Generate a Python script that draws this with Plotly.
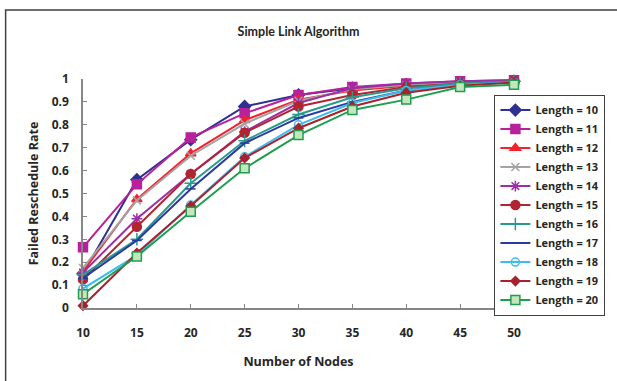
import plotly.graph_objects as go

nodes = [10, 15, 20, 25, 30, 35, 40, 45, 50]

len10 = [0.15, 0.56, 0.735, 0.88, 0.93, 0.96, 0.975, 0.985, 0.99]
len11 = [0.265, 0.54, 0.745, 0.85, 0.93, 0.965, 0.98, 0.99, 0.995]
len12 = [0.16, 0.475, 0.675, 0.82, 0.91, 0.95, 0.97, 0.985, 0.99]
len13 = [0.175, 0.47, 0.665, 0.805, 0.905, 0.955, 0.975, 0.985, 0.99]
len14 = [0.155, 0.39, 0.585, 0.77, 0.895, 0.96, 0.98, 0.99, 0.995]
len15 = [0.125, 0.355, 0.585, 0.765, 0.88, 0.93, 0.965, 0.98, 0.99]
len16 = [0.145, 0.30, 0.545, 0.73, 0.845, 0.92, 0.96, 0.98, 0.99]
len17 = [0.13, 0.295, 0.52, 0.72, 0.83, 0.90, 0.95, 0.975, 0.985]
len18 = [0.085, 0.23, 0.45, 0.66, 0.80, 0.895, 0.95, 0.975, 0.985]
len19 = [0.01, 0.24, 0.445, 0.655, 0.785, 0.88, 0.94, 0.97, 0.985]
len20 = [0.06, 0.225, 0.42, 0.61, 0.755, 0.865, 0.91, 0.965, 0.975]

names = ["Length = 10", "Length = 11", "Length = 12", "Length = 13",
         "Length = 14", "Length = 15", "Length = 16", "Length = 17",
         "Length = 18", "Length = 19", "Length = 20"]
series = [len10, len11, len12, len13, len14, len15, len16, len17, len18, len19, len20]

styles = [
    dict(color="#2E3192", symbol="diamond", size=9, fill="#2E3192"),
    dict(color="#B8219B", symbol="square", size=9, fill="#B8219B"),
    dict(color="#F5222D", symbol="triangle-up", size=9, fill="#F5222D"),
    dict(color="#A3A3A3", symbol="x-thin-open", size=8, fill="#A3A3A3"),
    dict(color="#9B2FA3", symbol="asterisk-open", size=9, fill="#9B2FA3"),
    dict(color="#B02530", symbol="circle", size=9, fill="#B02530"),
    dict(color="#2A9A8C", symbol="cross-thin-open", size=9, fill="#2A9A8C"),
    dict(color="#2B3AA0", symbol="line-ew-open", size=7, fill="#2B3AA0"),
    dict(color="#3DBDEF", symbol="circle-open", size=8, fill="#3DBDEF"),
    dict(color="#A8222E", symbol="diamond", size=7, fill="#A8222E"),
    dict(color="#1E9E4E", symbol="square", size=9, fill="#C5E6BD"),
]

fig = go.Figure()
for name, vals, st in zip(names, series, styles):
    fig.add_trace(go.Scatter(
        x=nodes, y=vals, name=name, mode="lines+markers",
        line=dict(color=st["color"], width=2),
        marker=dict(symbol=st["symbol"], size=st["size"], color=st["fill"],
                    line=dict(color=st["color"], width=1.5)),
        cliponaxis=False,
    ))

title_family = "Lato, sans-serif"
body_family = "'Open Sans', sans-serif"
txt_color = "#262626"
axis_color = "#868686"

fig.update_layout(
    width=617, height=381,
    margin=dict(l=83, r=94, t=79, b=73),
    paper_bgcolor="white", plot_bgcolor="white",
    font=dict(family=body_family, color=txt_color, size=12),
    title=dict(text="Simple Link Algorithm", x=0.5, xanchor="center",
               xref="paper", y=1 - 32 / 381, yanchor="middle",
               font=dict(size=12.5, family=title_family, color=txt_color, weight="bold")),
    showlegend=True,
    legend=dict(x=0.9545, y=0.932, xanchor="left", yanchor="top",
                bgcolor="white", bordercolor="#404040", borderwidth=1,
                font=dict(size=11, family=body_family, color=txt_color, weight="bold"),
                itemwidth=30, tracegroupgap=0),
    xaxis=dict(range=[10, 50], tickvals=nodes,
               showgrid=False, zeroline=False, showline=True,
               linecolor=axis_color, linewidth=1.5,
               ticks="inside", ticklen=4, tickcolor=axis_color,
               ticklabelstandoff=13,
               tickfont=dict(size=12, weight="bold"),
               title=dict(text="Number of Nodes", standoff=17,
                          font=dict(size=12.5, weight="bold"))),
    yaxis=dict(range=[0, 1], tickvals=[i / 10 for i in range(11)],
               showgrid=False, zeroline=False, showline=True,
               linecolor=axis_color, linewidth=1.5,
               ticks="inside", ticklen=4, tickcolor=axis_color,
               ticklabelstandoff=10,
               tickfont=dict(size=12, weight="bold"),
               title=dict(text="Failed Reschedule Rate", standoff=10,
                          font=dict(size=12.5, weight="bold"))),
    shapes=[dict(type="rect", xref="paper", yref="paper",
                 x0=-79 / 440, x1=600 / 440, y0=-80 / 229, y1=298 / 229,
                 line=dict(color="#404040", width=1.5), layer="below")],
)

fig.write_html("out.html")
